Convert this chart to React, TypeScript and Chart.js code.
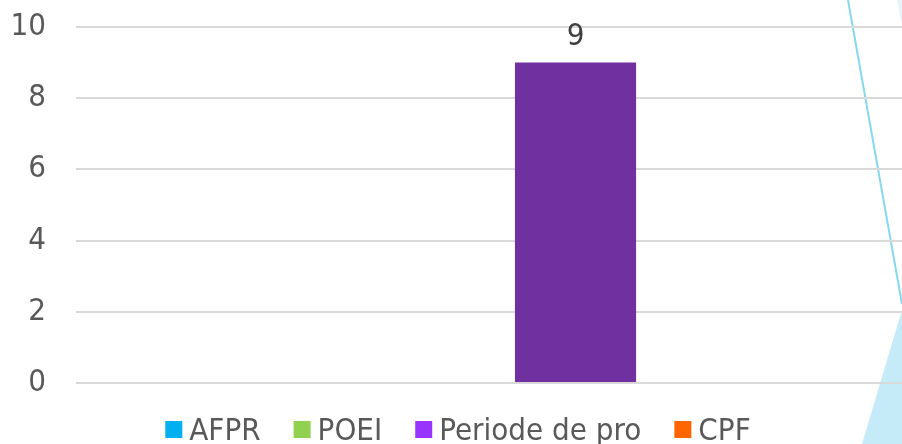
import React, { useEffect, useRef } from "react";
import { Chart, registerables } from "chart.js";

Chart.register(...registerables);

const categories = [""];
const seriesNames = ["AFPR", "POEI", "Periode de pro", "CPF"];
const seriesValues = [[0], [0], [9], [0]];
const barColors = ["#00B0F0", "#92D050", "#7030A0", "#FF6600"];
const legendColors = ["#00B0F0", "#92D050", "#9933FF", "#FF6600"];
const yTicks = [0, 2, 4, 6, 8, 10];

const FONT = "'DejaVu Sans Condensed', 'DejaVu Sans', sans-serif";
const TEXT = "#595959";
const FSIZE = 31;

const decoPlugin = {
  id: "deco",
  beforeDraw(chart: any) {
    const ctx = chart.ctx;
    const w = chart.width;
    const h = chart.height;
    ctx.save();
    ctx.fillStyle = "#C6EBF8";
    ctx.beginPath();
    ctx.moveTo(w, 310);
    ctx.lineTo(w, h);
    ctx.lineTo(w - 40, h);
    ctx.closePath();
    ctx.fill();
    ctx.fillStyle = "#E4F5FB";
    ctx.beginPath();
    ctx.moveTo(w - 5, 0);
    ctx.lineTo(w, 0);
    ctx.lineTo(w, 25);
    ctx.closePath();
    ctx.fill();
    ctx.strokeStyle = "#86D8F0";
    ctx.lineWidth = 2;
    ctx.beginPath();
    ctx.moveTo(w - 54, 0);
    ctx.lineTo(w, 304);
    ctx.stroke();
    ctx.restore();
  },
};

const labelPlugin = {
  id: "valueLabels",
  afterDatasetsDraw(chart: any) {
    const ctx = chart.ctx;
    ctx.save();
    ctx.font = `${FSIZE}px ${FONT}`;
    ctx.fillStyle = "#404040";
    ctx.textAlign = "center";
    ctx.textBaseline = "alphabetic";
    chart.data.datasets.forEach((ds: any, i: number) => {
      const meta = chart.getDatasetMeta(i);
      meta.data.forEach((el: any, j: number) => {
        const v = ds.data[j];
        if (v > 0) ctx.fillText(String(v), el.x, el.y - 18);
      });
    });
    ctx.restore();
  },
};

const legendPlugin = {
  id: "customLegend",
  afterDraw(chart: any) {
    const ctx = chart.ctx;
    ctx.save();
    ctx.font = `${FSIZE}px ${FONT}`;
    const box = 17;
    const gap = 7;
    const spacing = 33;
    const widths = seriesNames.map((n) => ctx.measureText(n).width);
    let total = 0;
    widths.forEach((tw, i) => {
      total += box + gap + tw + (i < widths.length - 1 ? spacing : 0);
    });
    let x = chart.width / 2 + 7 - total / 2;
    const baseline = 440;
    seriesNames.forEach((n, i) => {
      ctx.fillStyle = legendColors[i];
      ctx.fillRect(x, 421, box, box);
      ctx.fillStyle = TEXT;
      ctx.textAlign = "left";
      ctx.textBaseline = "alphabetic";
      ctx.fillText(n, x + box + gap, baseline);
      x += box + gap + widths[i] + spacing;
    });
    ctx.restore();
  },
};

export default function App() {
  const ref = useRef<HTMLCanvasElement>(null);
  useEffect(() => {
    if (!ref.current) return;
    const chart = new Chart(ref.current, {
      type: "bar",
      data: {
        labels: categories,
        datasets: seriesNames.map((name, i) => ({
          label: name,
          data: seriesValues[i],
          backgroundColor: barColors[i],
          borderWidth: 0,
          categoryPercentage: 0.838,
          barPercentage: 0.7,
        })),
      },
      options: {
        responsive: false,
        animation: false,
        layout: { padding: { top: 27, bottom: 61, left: 0, right: 0 } },
        plugins: {
          legend: { display: false },
          tooltip: { enabled: false },
        },
        scales: {
          x: { display: false },
          y: {
            min: 0,
            max: 10,
            afterBuildTicks(scale: any) {
              scale.ticks = yTicks.map((v) => ({ value: v }));
            },
            afterFit(scale: any) {
              scale.width = 76;
              scale.paddingTop = 0;
              scale.paddingBottom = 0;
            },
            border: { display: false },
            grid: { color: "#D9D9D9", lineWidth: 2, drawTicks: false },
            ticks: {
              padding: 30,
              color: TEXT,
              font: { family: FONT, size: FSIZE },
            },
          },
        },
      },
      plugins: [decoPlugin, labelPlugin, legendPlugin],
    });
    return () => chart.destroy();
  }, []);
  return (
    <div style={{ position: "fixed", left: 0, top: 0, width: 902, height: 444, overflow: "hidden", background: "#fff" }}>
      <canvas ref={ref} width={902} height={444} style={{ display: "block", width: 902, height: 444 }} />
    </div>
  );
}
